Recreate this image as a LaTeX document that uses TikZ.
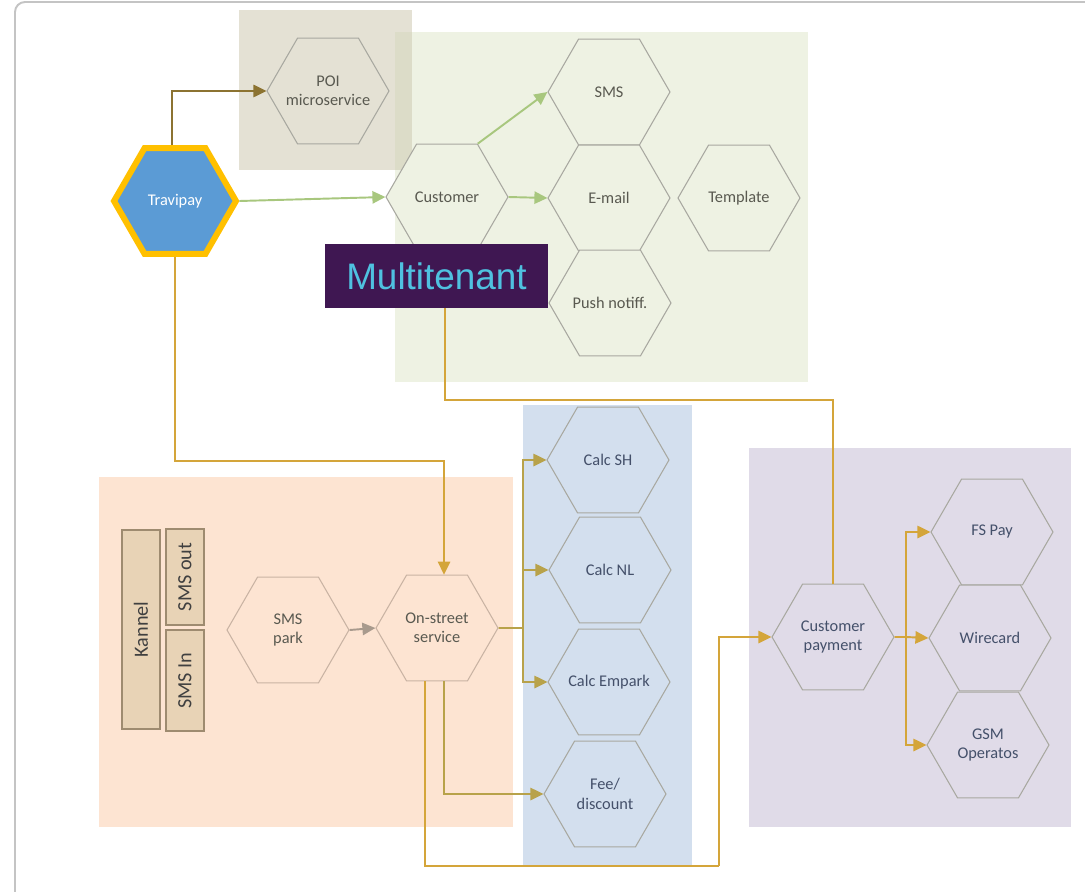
\documentclass[tikz,border=0pt]{standalone}
\usepackage{fontspec}
\setmainfont{Carlito}
\newfontfamily\tenantfont{Liberation Sans}
\usetikzlibrary{shapes.geometric,arrows.meta}
\definecolor{framegray}{HTML}{C4C4C4}
\definecolor{poiback}{HTML}{E4E1D4}
\definecolor{overlapback}{HTML}{DCDCC8}
\definecolor{greenback}{HTML}{EEF2E3}
\definecolor{orangeback}{HTML}{FDE4D2}
\definecolor{blueback}{HTML}{D3DFEE}
\definecolor{purpleback}{HTML}{E0DBE8}
\definecolor{hexline}{HTML}{A8A8A0}
\definecolor{orangeline}{HTML}{C9B3A3}
\definecolor{hextext}{HTML}{595950}
\definecolor{bluetext}{HTML}{44506A}
\definecolor{travblue}{HTML}{5B9BD5}
\definecolor{travgold}{HTML}{FFC000}
\definecolor{tenantback}{HTML}{3F1752}
\definecolor{tenanttext}{HTML}{4FC1E0}
\definecolor{kannelfill}{HTML}{E8D3B6}
\definecolor{kannelline}{HTML}{9E8B70}
\definecolor{poiarrow}{HTML}{8C7331}
\definecolor{greenarrow}{HTML}{A8C77E}
\definecolor{goldarrow}{HTML}{D4A53A}
\definecolor{olivearrow}{HTML}{B8A24A}
\definecolor{parkarrow}{HTML}{A89A8D}
\newcommand{\hx}{\fontsize{9.3}{11}\selectfont}
\newcommand{\kx}{\fontsize{11.5}{13}\selectfont}

\begin{document}
\begin{tikzpicture}[x=0.02cm,y=-0.02cm,
   >={Triangle[length=7.4pt,width=7pt]},
   hex/.style={regular polygon,regular polygon sides=6,minimum size=2.44cm,
      inner sep=-8pt,draw=hexline,line width=0.6pt,font=\hx,align=center,text=hextext},
   hexpoi/.style={hex,fill=poiback},
   hexgreen/.style={hex,fill=greenback},
   hexorange/.style={hex,fill=orangeback,draw=orangeline},
   hexblue/.style={hex,fill=blueback,text=bluetext},
   hexpurple/.style={hex,fill=purpleback,text=bluetext},
   kannelbox/.style={draw=kannelline,fill=kannelfill,line width=0.8pt,rotate=90,
      minimum height=0.76cm,inner sep=0pt,font=\kx,text=black!75},
   link/.style={line width=1.1pt}]
   \useasboundingbox (0,0) rectangle (1085,892);
   \clip (0,0) rectangle (1085,892);
   \fill[white] (0,0) rectangle (1085,892);
   \draw[framegray,line width=1.1pt,rounded corners=0.2cm] (15,900) -- (15,2) -- (1100,2);
   % grouped areas
   \fill[greenback] (395,32) rectangle (808,382);
   \fill[poiback] (239,10) rectangle (412,170);
   \fill[overlapback] (395,32) rectangle (412,170);
   \fill[orangeback] (99,477) rectangle (513,827);
   \fill[blueback] (523,405) rectangle (692,866);
   \fill[purpleback] (749,448) rectangle (1071,827);
   % Kannel
   \node[kannelbox,minimum width=3.98cm] (kannel) at (141,629.5) {Kannel};
   \node[kannelbox,minimum width=1.92cm] (smsout) at (185,577) {SMS out};
   \node[kannelbox,minimum width=2.02cm] (smsin) at (185,680.5) {SMS In};
   % services
   \node[hexpoi] (poi) at (328,91) {POI\\microservice};
   \node[hex,fill=travblue,draw=travgold,line width=3.4pt,text=white] (travipay) at (175,201) {Travipay};
   \node[hexgreen] (customer) at (447,197) {Customer};
   \node[hexgreen] (sms) at (609,92) {SMS};
   \node[hexgreen] (email) at (609,198) {E-mail};
   \node[hexgreen] (template) at (739,198) {Template};
   \node[hexgreen] (push) at (610,303) {Push notiff.};
   \node[hexorange] (smspark) at (288,630) {SMS\\park};
   \node[hexorange] (onstreet) at (437,628) {On-street\\service};
   \node[hexblue] (calcsh) at (608,460) {Calc SH};
   \node[hexblue] (calcnl) at (610,570) {Calc NL};
   \node[hexblue] (calcempark) at (609,682) {Calc Empark};
   \node[hexblue] (fee) at (605,794) {Fee/\\discount};
   \node[hexpurple] (custpay) at (833,637) {Customer\\payment};
   \node[hexpurple] (fspay) at (992,532) {FS Pay};
   \node[hexpurple] (wirecard) at (990,638) {Wirecard};
   \node[hexpurple] (gsm) at (988,745) {GSM\\Operatos};
   \node[fill=tenantback,text=tenanttext,minimum width=4.46cm,minimum height=1.28cm,
      inner sep=0pt,font=\tenantfont\fontsize{21}{24}\selectfont] (multitenant) at (436.5,276) {Multitenant};
   % bends
   \coordinate (travrow) at (177,461);
   \coordinate (tenantrow) at (640,400);
   \coordinate (calcsplit) at (523,628);
   \coordinate (paybend) at (719,866);
   \coordinate (paysplit) at (906,637);
   % links
   \draw[poiarrow,link,->] ([xshift=-0.06cm]travipay.north) |- (poi.west);
   \draw[greenarrow,link,->] (travipay.east) -- (customer.west);
   \draw[greenarrow,link,->] (customer.corner 1) -- (sms.corner 3);
   \draw[greenarrow,link,->] (customer.east) -- (email.west);
   \draw[goldarrow,link,->] (travipay.south) |- (travrow) -| ([xshift=0.14cm]onstreet.north);
   \draw[goldarrow,link] ([xshift=0.17cm]multitenant.south) |- (tenantrow) -| (custpay.north);
   \draw[parkarrow,link,->] (smspark.east) -- (onstreet.west);
   \draw[olivearrow,link] (onstreet.east) -- (calcsplit);
   \draw[olivearrow,link,->] (calcsplit) |- (calcsh.west);
   \draw[olivearrow,link,->] (calcsplit) |- (calcnl.west);
   \draw[olivearrow,link,->] (calcsplit) |- (calcempark.west);
   \draw[olivearrow,link,->] ([xshift=0.14cm]onstreet.south) |- (fee.west);
   \draw[goldarrow,link] ([xshift=-0.24cm]onstreet.south) |- (paybend);
   \draw[goldarrow,link,->] (paybend) |- (custpay.west);
   \draw[goldarrow,link] (custpay.east) -- (paysplit);
   \draw[goldarrow,link,->] (paysplit) |- (fspay.west);
   \draw[goldarrow,link,->] (paysplit) -- (wirecard.west);
   \draw[goldarrow,link,->] (paysplit) |- (gsm.west);
\end{tikzpicture}
\end{document}
